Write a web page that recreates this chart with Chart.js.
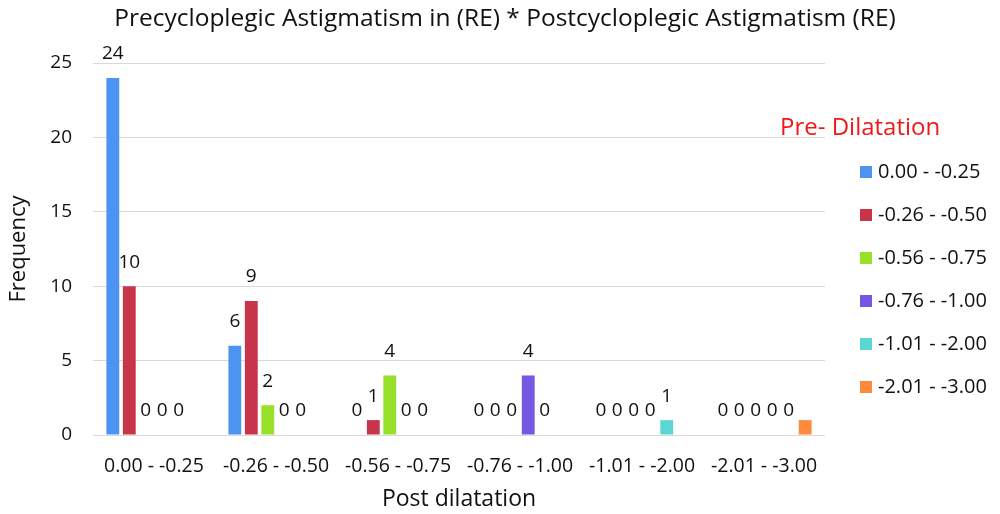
<!DOCTYPE html>
<html>
<head>
<meta charset="utf-8">
<script src="https://cdn.jsdelivr.net/npm/chart.js@4/dist/chart.umd.min.js"></script>
<style>
html,body{margin:0;padding:0;background:#fff;}
#wrap{width:1000px;height:514px;position:relative;}
</style>
</head>
<body>
<div id="wrap"><canvas id="c" width="1000" height="514"></canvas></div>
<script>
const categories = ["0.00 - -0.25", "-0.26 - -0.50", "-0.56 - -0.75", "-0.76 - -1.00", "-1.01 - -2.00", "-2.01 - -3.00"];
const seriesNames = ["0.00 - -0.25", "-0.26 - -0.50", "-0.56 - -0.75", "-0.76 - -1.00", "-1.01 - -2.00", "-2.01 - -3.00"];
const s1 = [24, 6, 0, 0, 0, 0];
const s2 = [10, 9, 1, 0, 0, 0];
const s3 = [0, 2, 4, 0, 0, 0];
const s4 = [0, 0, 0, 4, 0, 0];
const s5 = [0, 0, 0, 0, 1, 0];
const s6 = [0, 0, 0, 0, 0, 1];
const yTicks = [0, 5, 10, 15, 20, 25];
const showValueLabels = [true, true, true, true, true, false];
const colors = ["#4c93f2", "#c7354b", "#98e02a", "#7657e2", "#5cd6d2", "#fe8a3c"];

const FONT = "'Open Sans', 'DejaVu Sans', sans-serif";
const TITLE = "Precycloplegic Astigmatism in (RE) * Postcycloplegic Astigmatism (RE)";
const allSeries = [s1, s2, s3, s4, s5, s6];

const datasets = allSeries.map((d, i) => ({
  label: seriesNames[i],
  data: d,
  backgroundColor: colors[i],
  borderWidth: 0,
  categoryPercentage: 0.81,
  barPercentage: 0.78,
  showValues: showValueLabels[i]
}));

const valueLabels = {
  id: 'valueLabels',
  afterDatasetsDraw(chart) {
    const ctx = chart.ctx;
    ctx.save();
    ctx.font = "19px " + FONT;
    ctx.fillStyle = "#111";
    ctx.textAlign = "center";
    ctx.textBaseline = "middle";
    chart.data.datasets.forEach((ds, i) => {
      if (!ds.showValues) return;
      const meta = chart.getDatasetMeta(i);
      meta.data.forEach((bar, j) => {
        const v = ds.data[j];
        if (v === null || v === undefined) return;
        ctx.fillText(String(v), bar.x, bar.y - 24);
      });
    });
    ctx.restore();
  }
};

const customLegend = {
  id: 'customLegend',
  afterDraw(chart) {
    const ctx = chart.ctx;
    ctx.save();
    ctx.textBaseline = "middle";
    ctx.textAlign = "center";
    ctx.font = "24.5px " + FONT;
    ctx.fillStyle = "#111";
    ctx.fillText(TITLE, 505, 19);
    ctx.textAlign = "left";
    ctx.font = "24px " + FONT;
    ctx.fillStyle = "#f01818";
    ctx.fillText("Pre- Dilatation", 780, 128);
    ctx.font = "20px " + FONT;
    chart.data.datasets.forEach((ds, i) => {
      const y = 172 + i * 43;
      ctx.fillStyle = ds.backgroundColor;
      ctx.fillRect(860, y - 6, 12, 12);
      ctx.fillStyle = "#111";
      ctx.fillText(ds.label, 878, y);
    });
    ctx.restore();
  }
};

new Chart(document.getElementById('c'), {
  type: 'bar',
  data: { labels: categories, datasets: datasets },
  options: {
    responsive: false,
    animation: false,
    devicePixelRatio: 1,
    layout: { padding: { left: 0, right: 175, top: 63, bottom: 0 } },
    plugins: {
      legend: { display: false },
      tooltip: { enabled: false },
      title: { display: false }
    },
    scales: {
      x: {
        afterFit(scale) { scale.height = 79; },
        grid: { display: false },
        border: { display: false },
        ticks: { color: "#111", font: { family: FONT, size: 19.5 }, padding: 12, maxRotation: 0, autoSkip: false },
        title: { display: true, text: "Post dilatation", color: "#111", font: { family: FONT, size: 23 }, padding: { top: 0, bottom: 1 } }
      },
      y: {
        min: 0, max: 25,
        afterBuildTicks(scale) { scale.ticks = yTicks.map(v => ({ value: v })); },
        afterFit(scale) { scale.width = 93; },
        grid: { color: "#d9d9d9", lineWidth: 1, drawTicks: false },
        border: { display: false },
        ticks: { color: "#111", font: { family: FONT, size: 19 }, padding: 21 },
        title: { display: true, text: "Frequency", color: "#111", font: { family: FONT, size: 22 }, padding: { top: 6, bottom: 0 } }
      }
    }
  },
  plugins: [valueLabels, customLegend]
});
</script>
</body>
</html>
